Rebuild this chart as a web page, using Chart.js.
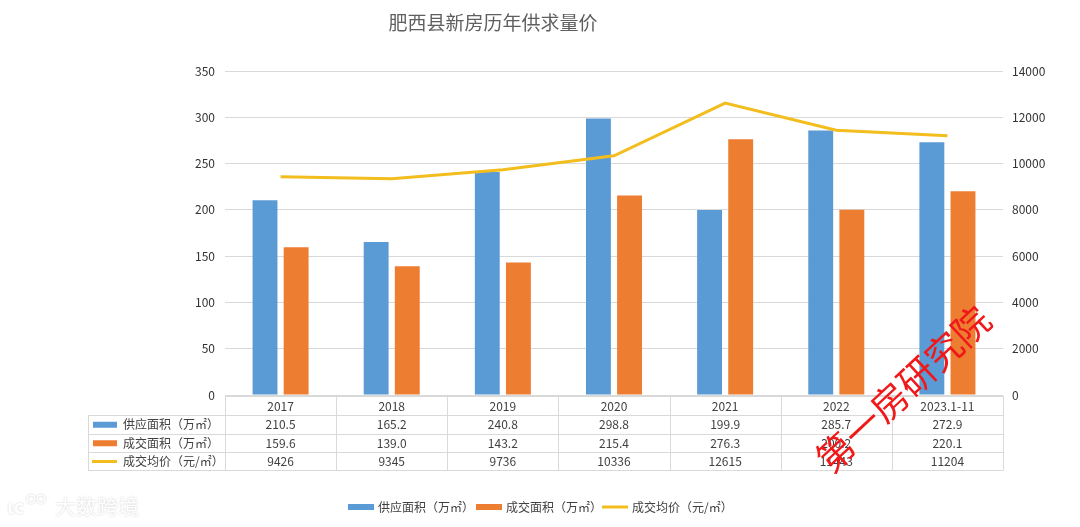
<!DOCTYPE html>
<html>
<head>
<meta charset="utf-8">
<script src="https://cdn.jsdelivr.net/npm/chart.js@4/dist/chart.umd.min.js"></script>
<style>
html,body{margin:0;padding:0;background:#fff;}
#wrap{width:1080px;height:527px;position:relative;}
</style>
</head>
<body>
<div id="wrap"><canvas id="c" width="1080" height="527"></canvas></div>
<script>
const title = '肥西县新房历年供求量价';
const categories = ['2017','2018','2019','2020','2021','2022','2023.1-11'];
const seriesNames = ['供应面积（万㎡）','成交面积（万㎡）','成交均价（元/㎡）'];
const supplyArea = [210.5,165.2,240.8,298.8,199.9,285.7,272.9];
const dealArea = [159.6,139.0,143.2,215.4,276.3,200.2,220.1];
const avgPrice = [9426,9345,9736,10336,12615,11443,11204];
const supplyText = ['210.5','165.2','240.8','298.8','199.9','285.7','272.9'];
const dealText = ['159.6','139.0','143.2','215.4','276.3','200.2','220.1'];
const priceText = ['9426','9345','9736','10336','12615','11443','11204'];
const watermark = '第一房研究院';
const watermark2 = '大数跨境';

const BLUE = '#5B9BD5', ORANGE = '#ED7D31', YELLOW = '#F2BD1D';
const FONT = '"Noto Sans CJK SC","Noto Sans",sans-serif';
const TXT = '#404040';

const tablePlugin = {
  id: 'tablePlugin',
  afterDraw(chart) {
    const ctx = chart.ctx;
    const ca = chart.chartArea;
    const xs = chart.scales.x;
    const n = categories.length;
    const colW = (ca.right - ca.left) / n;
    const tLeft = 88;
    const rows = [ca.bottom + 1, 415, 433.5, 452, 470];
    ctx.save();
    // title
    ctx.fillStyle = '#5f5f5f';
    ctx.font = '19px ' + FONT;
    ctx.textAlign = 'center';
    ctx.textBaseline = 'middle';
    ctx.fillText(title, 493, 23);

    // table lines
    ctx.strokeStyle = '#D9D9D9';
    ctx.lineWidth = 1;
    ctx.beginPath();
    ctx.moveTo(ca.left, rows[0] + 0.5); ctx.lineTo(ca.right, rows[0] + 0.5);
    for (let r = 1; r < rows.length; r++) {
      const y = Math.round(rows[r]) + 0.5;
      ctx.moveTo(tLeft, y); ctx.lineTo(ca.right, y);
    }
    for (let i = 0; i <= n; i++) {
      const x = Math.round(ca.left + i * colW) + 0.5;
      ctx.moveTo(x, rows[0]); ctx.lineTo(x, rows[4] + 0.5);
    }
    ctx.moveTo(tLeft + 0.5, rows[1]); ctx.lineTo(tLeft + 0.5, rows[4] + 0.5);
    ctx.stroke();

    // header and values
    ctx.fillStyle = TXT;
    ctx.font = '12px ' + FONT;
    ctx.textAlign = 'center';
    const texts = [categories, supplyText, dealText, priceText];
    for (let r = 0; r < 4; r++) {
      const yc = (rows[r] + rows[r + 1]) / 2 + 0.5;
      for (let i = 0; i < n; i++) {
        const x = xs.getPixelForValue(i);
        ctx.fillText(texts[r][i], x, yc);
      }
    }
    // row labels with markers
    const colors = [BLUE, ORANGE, YELLOW];
    ctx.textAlign = 'left';
    for (let r = 0; r < 3; r++) {
      const yc = (rows[r + 1] + rows[r + 2]) / 2 + 0.5;
      ctx.fillStyle = colors[r];
      if (r < 2) ctx.fillRect(93, yc - 3, 24, 6);
      else ctx.fillRect(92, yc - 1.5, 25, 3);
      ctx.fillStyle = TXT;
      ctx.fillText(seriesNames[r], 123, yc);
    }

    // bottom legend
    const ly = 507;
    const items = [[348, 378], [476, 506], [602, 632]];
    for (let k = 0; k < 3; k++) {
      ctx.fillStyle = colors[k];
      if (k < 2) ctx.fillRect(items[k][0], ly - 3, 26, 6);
      else ctx.fillRect(items[k][0], ly - 1.5, 26, 3);
      ctx.fillStyle = TXT;
      ctx.fillText(seriesNames[k], items[k][1], ly);
    }

    // watermark 2 (bottom-left), faint white with soft shadow
    ctx.fillStyle = '#ffffff';
    ctx.strokeStyle = '#ffffff';
    ctx.shadowColor = 'rgba(0,0,0,0.22)';
    ctx.shadowBlur = 2;
    ctx.textAlign = 'left';
    ctx.font = '21px ' + FONT;
    ctx.fillText(watermark2, 55, 506);
    ctx.font = 'bold 20px ' + FONT;
    ctx.fillText('ιc', 7, 506);
    ctx.lineWidth = 1.6;
    ctx.beginPath(); ctx.arc(31, 499, 4, 0, Math.PI * 2); ctx.stroke();
    ctx.beginPath(); ctx.arc(41, 499, 4, 0, Math.PI * 2); ctx.stroke();
    ctx.shadowBlur = 0; ctx.shadowColor = 'transparent';

    // red watermark
    ctx.translate(903, 389);
    ctx.rotate(-43 * Math.PI / 180);
    ctx.font = '37px ' + FONT;
    ctx.fillStyle = '#F01818';
    ctx.textAlign = 'center';
    ctx.fillText(watermark, 0, 0);
    ctx.restore();
  }
};

new Chart(document.getElementById('c'), {
  type: 'bar',
  data: {
    labels: categories,
    datasets: [
      { type: 'line', label: seriesNames[2], data: avgPrice, yAxisID: 'y1',
        borderColor: YELLOW, backgroundColor: YELLOW, borderWidth: 3,
        pointRadius: 0, tension: 0, order: 0 },
      { label: seriesNames[0], data: supplyArea, yAxisID: 'y', backgroundColor: BLUE,
        categoryPercentage: 0.56, barPercentage: 0.8, order: 1 },
      { label: seriesNames[1], data: dealArea, yAxisID: 'y', backgroundColor: ORANGE,
        categoryPercentage: 0.56, barPercentage: 0.8, order: 1 }
    ]
  },
  options: {
    responsive: false,
    animation: false,
    layout: { padding: { left: 185, right: 0, top: 71, bottom: 132 } },
    plugins: { legend: { display: false }, title: { display: false }, tooltip: { enabled: false } },
    scales: {
      x: { display: false, offset: true },
      y: {
        position: 'left', min: 0, max: 350,
        ticks: { stepSize: 50, padding: 10, color: '#333', font: { size: 12, family: FONT },
                 callback: v => String(v) },
        grid: { color: '#D9D9D9', drawTicks: false },
        border: { display: false },
        afterFit: s => { s.width = 40; }
      },
      y1: {
        position: 'right', min: 0, max: 14000,
        ticks: { stepSize: 2000, padding: 9, color: '#333', font: { size: 12, family: FONT },
                 callback: v => String(v) },
        grid: { drawOnChartArea: false, drawTicks: false },
        border: { display: false },
        afterFit: s => { s.width = 77; }
      }
    }
  },
  plugins: [tablePlugin]
});
</script>
</body>
</html>
